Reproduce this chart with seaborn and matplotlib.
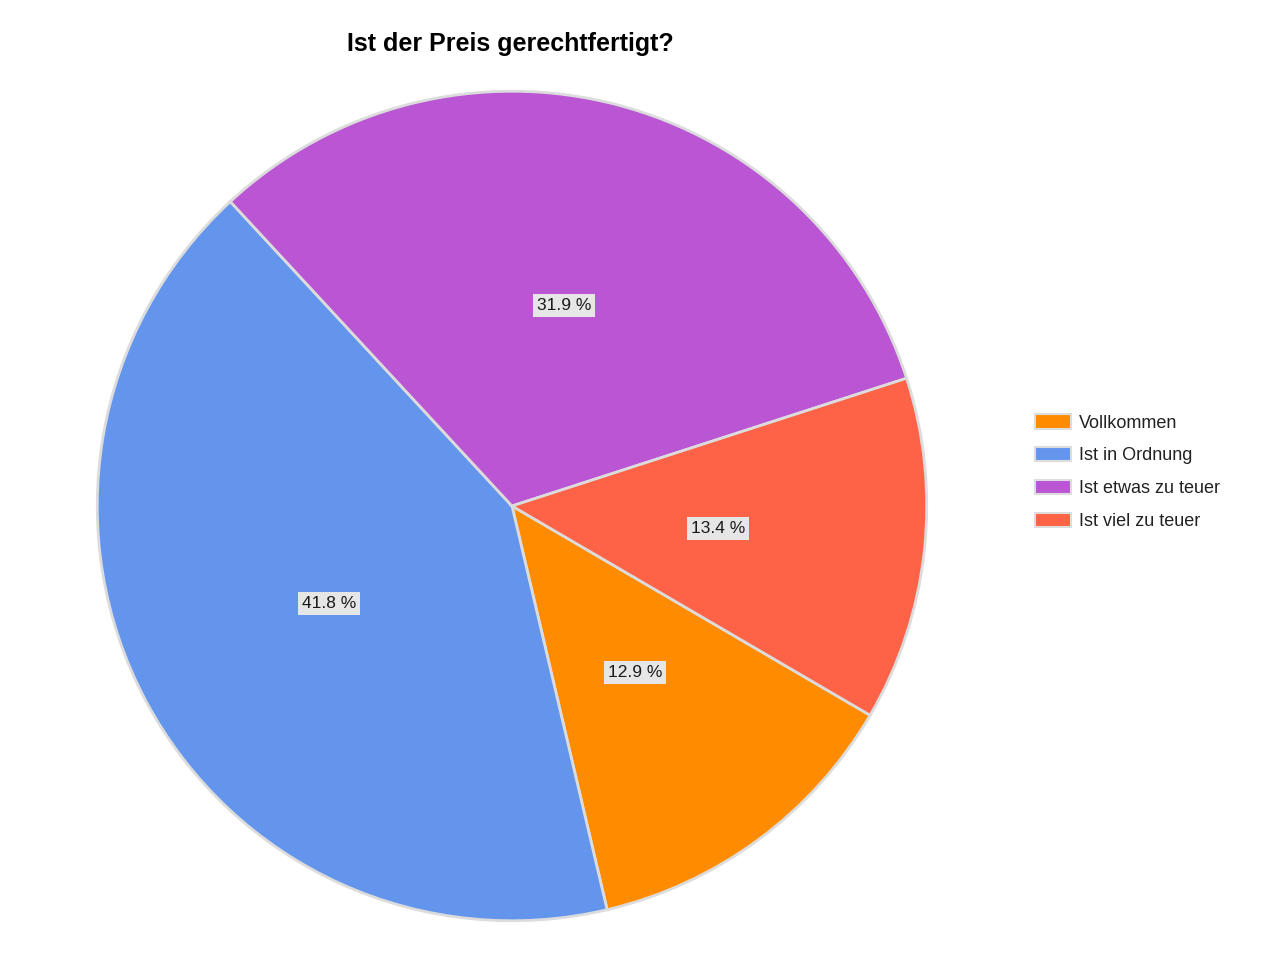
import matplotlib
matplotlib.use("Agg")
import matplotlib.pyplot as plt
import seaborn as sns

categories = ["Vollkommen", "Ist in Ordnung", "Ist etwas zu teuer", "Ist viel zu teuer"]
values = [12.9, 41.8, 31.9, 13.4]
colors = ["#FF8C00", "#6495ED", "#BA55D3", "#FF6347"]
title = "Ist der Preis gerechtfertigt?"

sns.set_theme(style="white")
plt.rcParams["font.family"] = ["Liberation Sans", "DejaVu Sans"]

fig = plt.figure(figsize=(12.8, 9.6), dpi=100)
fig.patch.set_facecolor("white")
R = 416
ax = fig.add_axes([(512 - R) / 1280, (960 - 506 - R) / 960, 2 * R / 1280, 2 * R / 960])

wedges, texts, autotexts = ax.pie(
    values,
    colors=colors,
    startangle=-30.3,
    counterclock=False,
    radius=1.0,
    autopct=lambda p: f"{p:.1f} %",
    pctdistance=0.5,
    wedgeprops=dict(edgecolor="#DCDCDC", linewidth=2),
    textprops=dict(fontsize=12.5, color="#1a1a1a"),
)
for t in autotexts:
    t.set_bbox(dict(boxstyle="square,pad=0.22", facecolor="#E6E6E6", edgecolor="none"))

ax.set_xlim(-1.003, 1.003)
ax.set_ylim(-1.003, 1.003)
ax.set_aspect("equal")
ax.axis("off")

fig.text(510 / 1280, 1 - 44 / 960, title, ha="center", va="center",
         fontsize=18, fontweight="bold", color="black")

leg = fig.legend(wedges, categories, loc="upper left",
                 bbox_to_anchor=(1028 / 1280, 1 - 407 / 960),
                 frameon=False, fontsize=13, handlelength=2.0, handleheight=0.85,
                 labelspacing=0.85, handletextpad=0.4, borderaxespad=0)
for h in leg.legend_handles:
    h.set_edgecolor("#DDDDDD")
    h.set_linewidth(1.5)
for t in leg.get_texts():
    t.set_color("#222222")

fig.savefig("out.png", dpi=100, facecolor="white")
